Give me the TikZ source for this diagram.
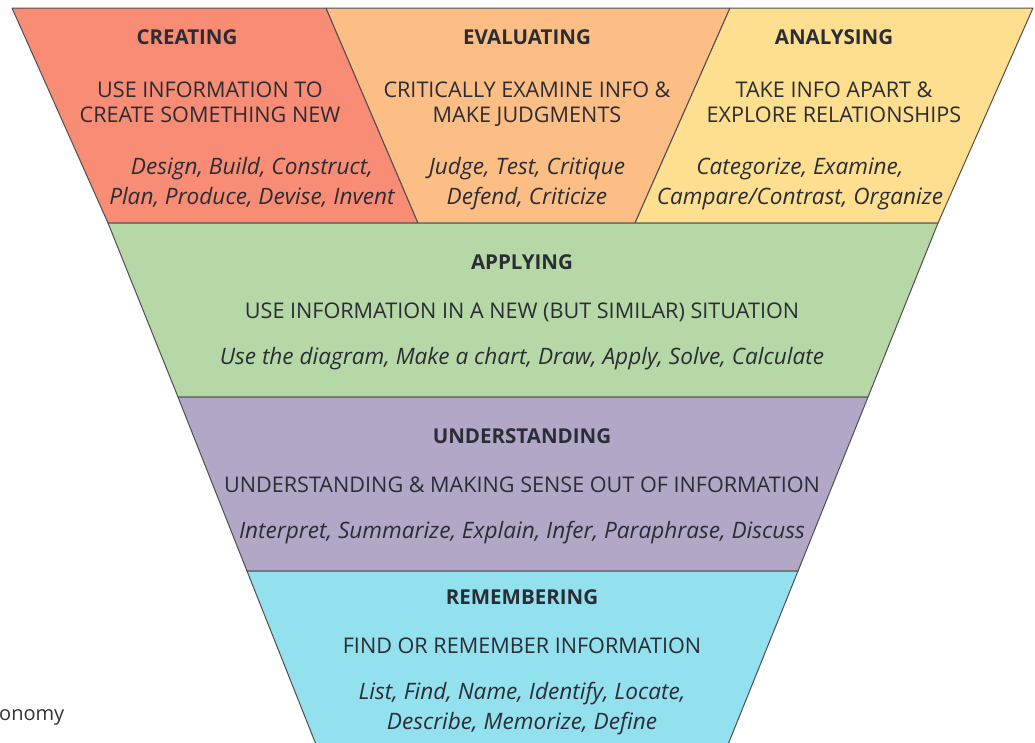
\documentclass[tikz,border=0pt]{standalone}
\usepackage{fontspec}
\setmainfont{Open Sans}
\usepackage{tikz}

\definecolor{createcol}{HTML}{F98C74}
\definecolor{evalcol}{HTML}{FDBE86}
\definecolor{analysecol}{HTML}{FEDF90}
\definecolor{applycol}{HTML}{B6D7A6}
\definecolor{understandcol}{HTML}{B3A7C7}
\definecolor{remembercol}{HTML}{93E0EE}
\definecolor{inkcol}{HTML}{2B2D35}
\definecolor{edgecol}{HTML}{4F4F4F}

\tikzset{
  band/.style={draw=edgecol,line width=1pt,line join=round},
  txt/.style={anchor=base,inner sep=0pt,text=inkcol,font=\fontsize{21.6}{25}\selectfont},
  title/.style={txt,font=\fontsize{20.5}{25}\selectfont\bfseries},
  verbs/.style={txt,font=\fontsize{22.6}{25}\selectfont\itshape},
}

\begin{document}
\begin{tikzpicture}[x=1pt,y=-1pt]
  \useasboundingbox (0,0) rectangle (1035,742);
  % the bands, top to bottom
  \draw[band,fill=createcol] (12,8) -- (326,8) -- (418,223) -- (108,223) -- cycle;
  \draw[band,fill=evalcol] (326,8) -- (730,8) -- (635,223) -- (418,223) -- cycle;
  \draw[band,fill=analysecol] (730,8) -- (1033,8) -- (938,223) -- (635,223) -- cycle;
  \draw[band,fill=applycol] (108,223) -- (938,223) -- (868,397) -- (178,397) -- cycle;
  \draw[band,fill=understandcol] (178,397) -- (868,397) -- (798,571) -- (247,571) -- cycle;
  \draw[band,fill=remembercol] (316.6,746) -- (247,571) -- (798,571) -- (727.4,746);

  \node (creating) [title] at (187,44) {CREATING};
  \node (createa) [txt] at (210,97) {USE INFORMATION TO};
  \node (createb) [txt] at (210,122) {CREATE SOMETHING NEW};
  \node (createc) [verbs] at (252,174) {Design, Build, Construct,};
  \node (created) [verbs] at (252,204) {Plan, Produce, Devise, Invent};

  \node (evaluating) [title] at (527,44) {EVALUATING};
  \node (evala) [txt] at (527,97) {CRITICALLY EXAMINE INFO \&};
  \node (evalb) [txt] at (527,122) {MAKE JUDGMENTS};
  \node (evalc) [verbs] at (527,174) {Judge, Test, Critique};
  \node (evald) [verbs] at (527,204) {Defend, Criticize};

  \node (analysing) [title] at (834,44) {ANALYSING};
  \node (analysea) [txt] at (834,97) {TAKE INFO APART \&};
  \node (analyseb) [txt] at (834,122) {EXPLORE RELATIONSHIPS};
  \node (analysec) [verbs] at (800,174) {Categorize, Examine,};
  \node (analysed) [verbs] at (800,204) {Campare/Contrast, Organize};

  \node (applying) [title] at (522,269) {APPLYING};
  \node (applya) [txt] at (522,318) {USE INFORMATION IN A NEW (BUT SIMILAR) SITUATION};
  \node (applyb) [verbs] at (522,364) {Use the diagram, Make a chart, Draw, Apply, Solve, Calculate};

  \node (understanding) [title] at (522,443) {UNDERSTANDING};
  \node (understanda) [txt] at (522,492) {UNDERSTANDING \& MAKING SENSE OUT OF INFORMATION};
  \node (understandb) [verbs] at (522,538) {Interpret, Summarize, Explain, Infer, Paraphrase, Discuss};

  \node (remembering) [title] at (522,604) {REMEMBERING};
  \node (remembera) [txt] at (522,653) {FIND OR REMEMBER INFORMATION};
  \node (rememberb) [verbs] at (522,699) {List, Find, Name, Identify, Locate,};
  \node (rememberc) [verbs] at (522,729) {Describe, Memorize, Define};

  \node (caption) [txt,anchor=base west,text=black!80,font=\fontsize{20}{24}\selectfont] at (-1,720) {onomy};
\end{tikzpicture}
\end{document}
